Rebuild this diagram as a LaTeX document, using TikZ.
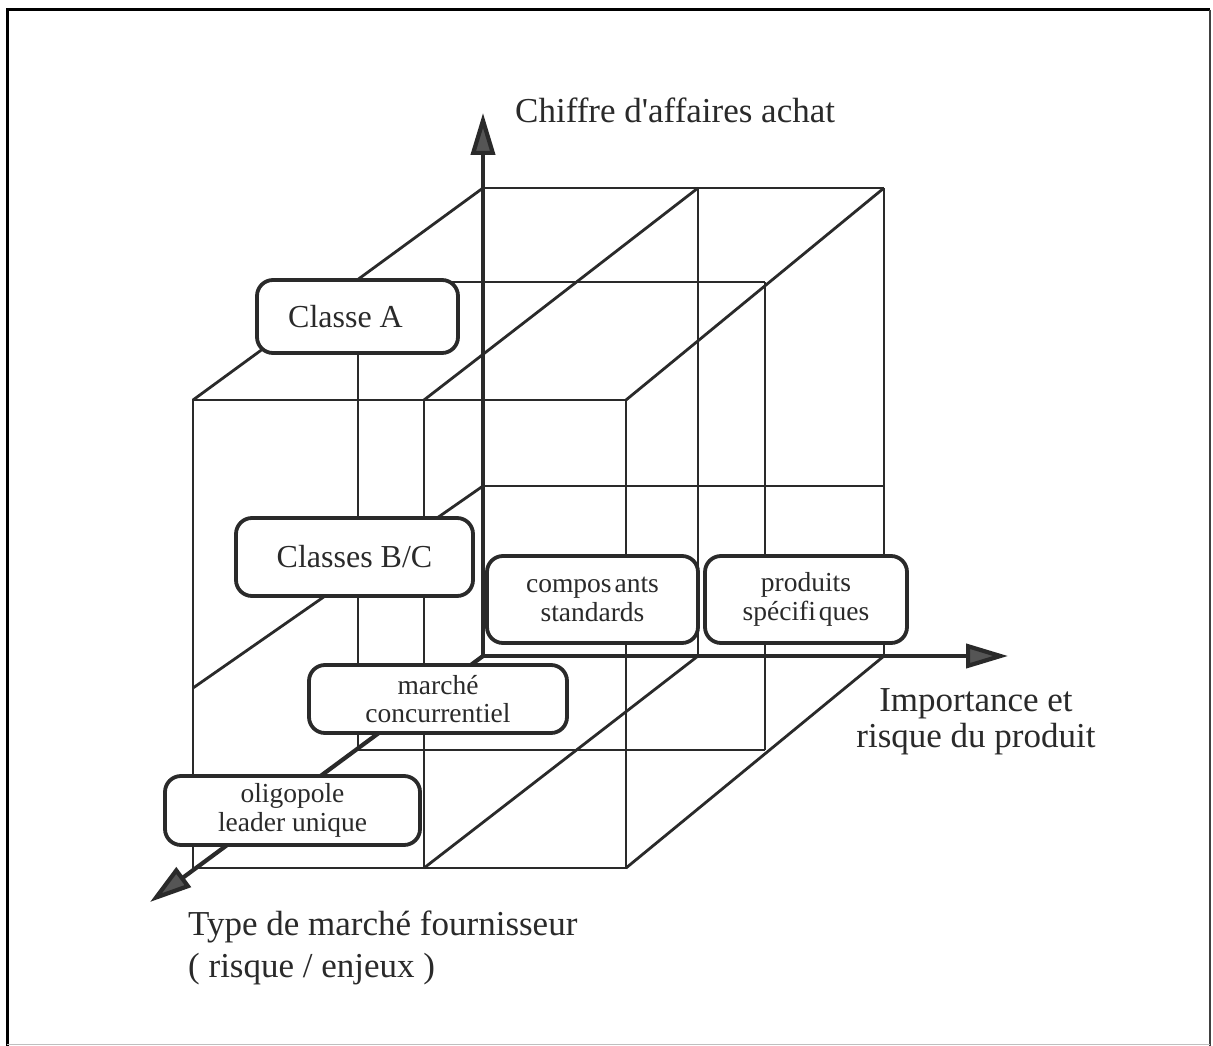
\documentclass[tikz,border=0pt]{standalone}
\usepackage{fontspec}
\setmainfont{Liberation Serif}
\usetikzlibrary{arrows.meta}
\definecolor{ink}{HTML}{2A2A2A}
\definecolor{arrowfill}{HTML}{555555}
\begin{document}
\begin{tikzpicture}[x=1pt,y=-1pt,
  edge/.style={draw=ink,line width=2.8pt},
  axis/.style={draw=ink,line width=4.2pt,-{Triangle[length=42pt,width=24pt,fill=arrowfill]}},
  cellbox/.style={draw=ink,fill=white,line width=3.8pt,rounded corners=16pt,
    inner sep=0pt,align=center,text=ink},
  bigtxt/.style={font=\fontsize{32}{34}\selectfont},
  smalltxt/.style={font=\fontsize{27.5}{28.5}\selectfont},
  axistxt/.style={text=ink,inner sep=0pt,font=\fontsize{35}{40}\selectfont}]
\useasboundingbox (0,0) rectangle (1213,1046);
\fill[white] (0,0) rectangle (1213,1046);

% page frame
\draw[black,line width=3pt] (7,1046) -- (7,10) -- (1210,10);
\draw[black!75,line width=2.5pt] (1210,10) -- (1210,1046);
\draw[black!25,line width=1pt] (7,1044) -- (1210,1044);

% origin and axis ends
\coordinate (o) at (483,656);
\coordinate (ytip) at (483,113);
\coordinate (xtip) at (1008,656);
\coordinate (ztip) at (150,902);

% back face
\draw[edge] (483,188) -- (884,188);
\draw[edge] (483,486) -- (884,486);
\draw[edge] (698,188) -- (698,656);
\draw[edge] (884,188) -- (884,656);
% middle slice
\draw[edge] (358,282) -- (765,282);
\draw[edge] (358,750) -- (765,750);
\draw[edge] (358,282) -- (358,750);
\draw[edge] (765,282) -- (765,750);
% front face
\draw[edge] (193,400) rectangle (626,868);
\draw[edge] (424,400) -- (424,868);
% receding edges
\draw[edge] (193,400) -- (483,188);
\draw[edge] (424,400) -- (698,188);
\draw[edge] (626,400) -- (884,188);
\draw[edge] (193,688) -- (483,486);
\draw[edge] (424,868) -- (698,656);
\draw[edge] (626,868) -- (884,656);

% axes
\draw[axis] (o) -- (ytip);
\draw[axis] (o) -- (xtip);
\draw[axis] (o) -- (ztip);

% labelled cells
\node[cellbox,bigtxt,minimum width=201pt,minimum height=73pt] (classA) at (357.5,316.5) {Classe A\hspace*{24pt}};
\node[cellbox,bigtxt,minimum width=237pt,minimum height=78pt] (classBC) at (354.5,557) {Classes B/C};
\node[cellbox,smalltxt,minimum width=211pt,minimum height=87pt] (standard) at (592.5,599.5) {compos\kern3pt ants\\standards};
\node[cellbox,smalltxt,minimum width=202pt,minimum height=87pt] (specific) at (806,599.5) {produits\\spécifi\kern3pt ques};
\node[cellbox,smalltxt,minimum width=258pt,minimum height=68pt] (compet) at (438,699) {marché\\concurrentiel};
\node[cellbox,smalltxt,minimum width=255pt,minimum height=69pt] (oligo) at (292.5,810.5) {oligopole\\leader unique};

% axis titles (base anchor sits on the last line)
\node[axistxt,anchor=base west] (ylab) at (515,123) {Chiffre d\textquotesingle affaires achat};
\node[axistxt,align=center,anchor=base,font=\fontsize{35}{36}\selectfont] (xlab) at (976,747) {Importance et\\risque du produit};
\node[axistxt,align=left,anchor=base west,font=\fontsize{35}{42}\selectfont] (zlab) at (188,977) {Type de marché fournisseur\\( risque / enjeux )};
\end{tikzpicture}
\end{document}
